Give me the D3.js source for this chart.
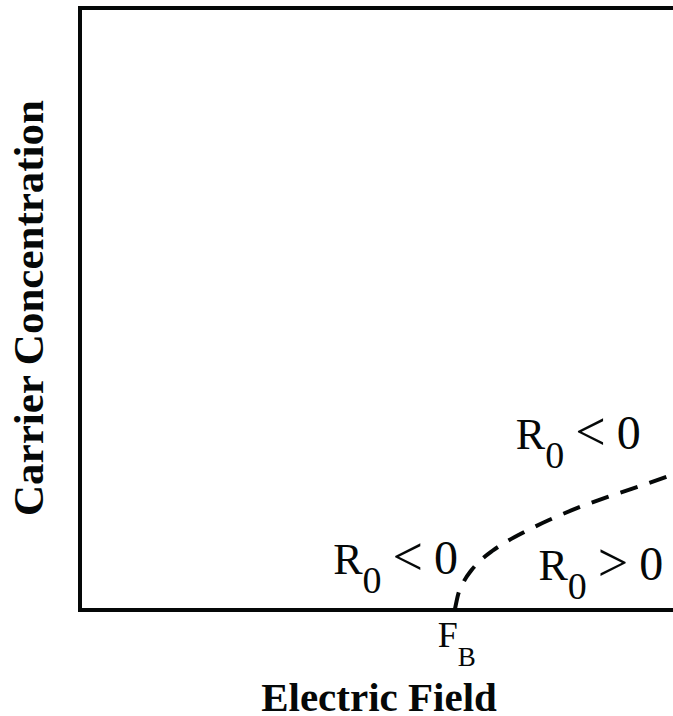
<!DOCTYPE html>
<html>
<head>
<meta charset="utf-8">
<script src="https://cdn.jsdelivr.net/npm/d3@7"></script>
<style>
  html, body { margin: 0; padding: 0; background: #fff; }
  svg { display: block; }
  text { font-family: "Liberation Serif", "Times New Roman", Times, serif; fill: #050808; }
</style>
</head>
<body>
<svg id="chart" width="673" height="716"></svg>
<script>
// Boundary between the R0 < 0 and R0 > 0 regions (arbitrary units)
const boundaryField = [6.32, 6.38, 6.47, 6.60, 6.75, 6.95, 7.20, 7.50, 7.90, 8.40, 8.90, 9.45, 10.0];
const boundaryConc  = [0.00, 0.27, 0.47, 0.66, 0.82, 0.98, 1.14, 1.30, 1.49, 1.70, 1.88, 2.06, 2.25];

// Threshold field marked on the x axis
const thresholdField = [6.32];
const thresholdLabel = ["F", "B"];

// Region labels: [field, concentration] anchor, relation and sign value
const regionField = [7.35, 4.27, 7.73];
const regionConc  = [2.67, 0.60, 0.50];
const regionRel   = ["<", "<", ">"];
const regionValue = ["0", "0", "0"];

const xTitle = "Electric Field";
const yTitle = "Carrier Concentration";

const W = 673, H = 716;
const margin = { left: 80, top: 8, bottom: 106 };
const x = d3.scaleLinear().domain([0, 10]).range([margin.left, 673]);
const y = d3.scaleLinear().domain([0, 10]).range([H - margin.bottom, margin.top]);

const svg = d3.select("#chart");
const ink = "#050808";

// Frame: left, top and bottom edges (right edge runs past the view)
const frame = svg.append("g").attr("fill", "none").attr("stroke", ink).attr("stroke-width", 4);
frame.append("path")
  .attr("d", `M${x.range()[1] + 10},${y(10)} H${x(0)} V${y(0)} H${x.range()[1] + 10}`)
  .attr("stroke-linejoin", "miter");

// Dashed boundary curve
const pts = boundaryField.map((f, i) => [f, boundaryConc[i]]);
const line = d3.line().x(d => x(d[0])).y(d => y(d[1])).curve(d3.curveMonotoneX);
svg.append("path")
  .datum(pts)
  .attr("d", line)
  .attr("fill", "none")
  .attr("stroke", ink)
  .attr("stroke-width", 4)
  .attr("stroke-dasharray", "18,12.5");

// Region labels R0 with subscript
regionRel.forEach((rel, i) => {
  const txt = svg.append("text")
    .attr("x", x(regionField[i]))
    .attr("y", y(regionConc[i]))
    .attr("font-size", 44)
    .attr("xml:space", "preserve");
  txt.append("tspan").text("R");
  txt.append("tspan").attr("font-size", 38).attr("dy", 19).text("0");
  txt.append("tspan").attr("dy", -19).text(" ");
  txt.append("tspan").attr("font-size", 54).attr("dy", 1).text(rel);
  txt.append("tspan").attr("dy", -1).text(" ");
  txt.append("tspan").attr("font-size", 48).text(regionValue[i]);
});

// F_B label under the axis
thresholdField.forEach(f => {
  const t = svg.append("text")
    .attr("x", x(f) - 17)
    .attr("y", 647)
    .attr("font-size", 36);
  t.append("tspan").text(thresholdLabel[0]);
  t.append("tspan").attr("font-size", 27).attr("dy", 19).text(thresholdLabel[1]);
});

// Axis titles
svg.append("text")
  .attr("x", 379)
  .attr("y", 711)
  .attr("text-anchor", "middle")
  .attr("font-size", 41)
  .attr("font-weight", "bold")
  .text(xTitle);

svg.append("text")
  .attr("transform", "translate(43,308) rotate(-90)")
  .attr("text-anchor", "middle")
  .attr("font-size", 43)
  .attr("font-weight", "bold")
  .text(yTitle);
</script>
</body>
</html>
